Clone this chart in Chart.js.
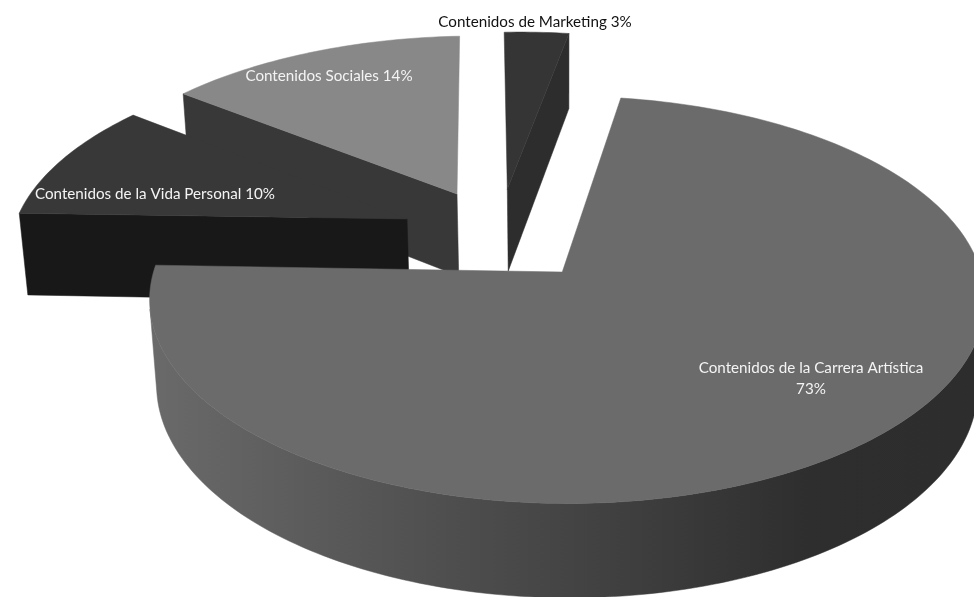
<!DOCTYPE html>
<html>
<head>
<meta charset="utf-8">
<title>Contenidos</title>
<style>
  html, body { margin: 0; padding: 0; background: #fff; }
  #wrap { width: 974px; height: 597px; }
</style>
</head>
<body>
<div id="wrap"><canvas id="pie" width="974" height="597"></canvas></div>
<script src="https://cdn.jsdelivr.net/npm/chart.js@4"></script>
<script>
const categories = [
  "Contenidos de la Carrera Artística",
  "Contenidos de la Vida Personal",
  "Contenidos Sociales",
  "Contenidos de Marketing",
];
const shares = [73, 10, 14, 3];

const topColors = ["#6b6b6b", "#383838", "#888888", "#353535"];
const sideColors = ["#4a4a4a", "#181818", "#383838", "#2d2d2d"];
const labelColors = ["#f4f4f4", "#f4f4f4", "#f4f4f4", "#111111"];

// label anchor in px, one entry per category
const labelSpots = [[811, 368], [155, 194], [329, 76], [535, 22]];

// camera for the tilted pie: unit-radius pie coords go to screen px
const CAM = { x: 564, y: 273, a: 414, b: 200, depth: 87, p: 0.137, r: 0.012, q: 0.017, cu: -0.162, cv: -0.197 };

function project(u, v, z) {
  const wu = u + CAM.cu, wv = v + CAM.cv;
  const w = 1 - CAM.p * wv - CAM.r * wu + CAM.q * z;
  return [CAM.x + CAM.a * wu / w, CAM.y + (CAM.b * wv + CAM.depth * z) / w];
}

function polyArea(pts) {
  let s = 0;
  pts.forEach((p, i) => {
    const n = pts[(i + 1) % pts.length];
    s += p[0] * n[1] - n[0] * p[1];
  });
  return s;
}

function fillPoly(ctx, pts, color) {
  ctx.beginPath();
  pts.forEach((p, i) => (i ? ctx.lineTo(p[0], p[1]) : ctx.moveTo(p[0], p[1])));
  ctx.closePath();
  ctx.fillStyle = color;
  ctx.fill();
  ctx.strokeStyle = color;
  ctx.lineWidth = 0.5;
  ctx.stroke();
}

// apex + rim outline of one arc element, in unit-radius pie coords
function outline(arc) {
  const R = arc.outerRadius;
  const mid = (arc.startAngle + arc.endAngle) / 2;
  const off = arc.options.offset / R;
  const ax = Math.cos(mid) * off, ay = Math.sin(mid) * off;
  const steps = Math.max(4, Math.ceil((arc.endAngle - arc.startAngle) / 0.02));
  const pts = [[ax, ay]];
  for (let i = 0; i <= steps; i++) {
    const t = arc.startAngle + (arc.endAngle - arc.startAngle) * i / steps;
    pts.push([ax + Math.cos(t), ay + Math.sin(t)]);
  }
  return pts;
}

function wallGradient(ctx) {
  const g = ctx.createLinearGradient(150, 0, 974, 0);
  g.addColorStop(0, "#6a6a6a");
  g.addColorStop(0.34, "#505050");
  g.addColorStop(0.55, "#414141");
  g.addColorStop(0.8, "#2e2e2e");
  g.addColorStop(1, "#2d2d2d");
  return g;
}

function drawSlice(ctx, arc, index) {
  const pts = outline(arc);
  const n = pts.length;
  let run = [];
  const side = index === 0 ? wallGradient(ctx) : sideColors[index];
  const flush = () => {
    if (!run.length) return;
    const top = [run[0][0], ...run.map(r => r[1])];
    const bottom = top.map(p => project(p.src[0], p.src[1], 1)).reverse();
    fillPoly(ctx, [...top, ...bottom], side);
    run = [];
  };
  // walk the boundary, keep only the wall pieces that face the camera
  for (let i = 0; i < n; i++) {
    const a = pts[i], b = pts[(i + 1) % n];
    const ta = Object.assign(project(a[0], a[1], 0), { src: a });
    const tb = Object.assign(project(b[0], b[1], 0), { src: b });
    const quad = [ta, tb, project(b[0], b[1], 1), project(a[0], a[1], 1)];
    const radial = i === 0 || i === n - 1;
    // radial walls seen nearly edge-on are skipped, they'd only leave a sliver
    if (polyArea(quad) < (radial ? -3000 : 0)) run.push([ta, tb]);
    else flush();
    if (i === 0 || i === n - 2) flush();
  }
  flush();
  fillPoly(ctx, pts.map(p => project(p[0], p[1], 0)), topColors[index]);
}

const tiltedPie = {
  id: "tiltedPie",
  beforeDatasetsDraw(chart) {
    const ctx = chart.ctx;
    const arcs = chart.getDatasetMeta(0).data;
    const order = arcs.map((arc, i) => i).sort((i, j) => {
      const mi = (arcs[i].startAngle + arcs[i].endAngle) / 2;
      const mj = (arcs[j].startAngle + arcs[j].endAngle) / 2;
      return Math.sin(mi) - Math.sin(mj);
    });
    ctx.save();
    order.forEach(i => drawSlice(ctx, arcs[i], i));
    ctx.restore();
    return false;
  },
  afterDraw(chart) {
    const ctx = chart.ctx;
    ctx.save();
    ctx.font = "15.2px Lato";
    ctx.textAlign = "center";
    ctx.textBaseline = "middle";
    categories.forEach((name, i) => {
      const [x, y] = labelSpots[i];
      ctx.fillStyle = labelColors[i];
      if (i === 0) {
        ctx.fillText(name, x, y);
        ctx.fillText(shares[i] + "%", x, y + 21);
      } else {
        ctx.fillText(name + " " + shares[i] + "%", x, y);
      }
    });
    ctx.restore();
  },
};

new Chart(document.getElementById("pie"), {
  type: "pie",
  data: {
    labels: categories,
    datasets: [{ data: shares, backgroundColor: topColors, borderWidth: 0, offset: 66 }],
  },
  options: {
    responsive: false,
    animation: false,
    rotation: 9.2,
    plugins: { legend: { display: false }, tooltip: { enabled: false } },
  },
  plugins: [tiltedPie],
});
</script>
</body>
</html>
